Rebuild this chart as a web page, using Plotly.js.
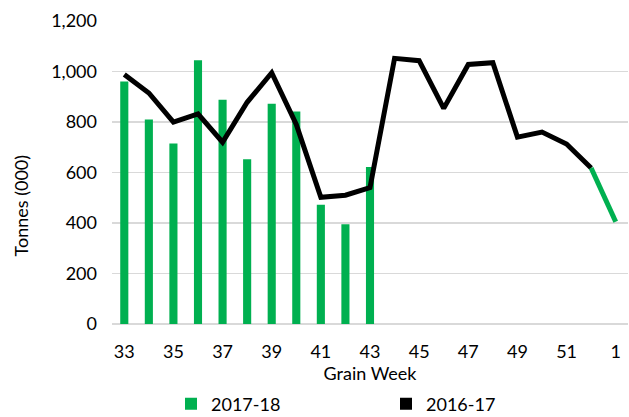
<!DOCTYPE html>
<html>
<head>
<meta charset="utf-8">
<script src="https://cdn.plot.ly/plotly-3.0.1.min.js"></script>
<style>html,body{margin:0;padding:0;background:#fff;}#chart{width:629px;height:417px;}</style>
</head>
<body>
<div id="chart"></div>
<script>
const weeks = ["33","34","35","36","37","38","39","40","41","42","43","44","45","46","47","48","49","50","51","52","1"];
const tickLabels = ["33","35","37","39","41","43","45","47","49","51","1"];
const bars2017 = [960, 810, 715, 1045, 888, 652, 872, 842, 472, 395, 622];
const line2016 = [988, 915, 800, 832, 720, 878, 995, 790, 502, 510, 540, 1052, 1043, 854, 1028, 1035, 740, 760, 713, 618, 405];

const barWeeks = weeks.slice(0, bars2017.length);
const blackWeeks = weeks.slice(0, weeks.length - 1);
const blackVals = line2016.slice(0, line2016.length - 1);
const greenWeeks = weeks.slice(weeks.length - 2);
const greenVals = line2016.slice(line2016.length - 2);

const GREEN = '#00b050';
const FONT = 'Lato, "Open Sans", sans-serif';

const traces = [
  {type:'bar', x:barWeeks, y:bars2017, name:'2017-18', marker:{color:GREEN}, width:0.33, showlegend:true, hoverinfo:'skip'},
  {type:'bar', x:[weeks[0]], y:[null], name:'2016-17', marker:{color:'#000000'}, showlegend:true, hoverinfo:'skip'},
  {type:'scatter', mode:'lines', x:blackWeeks, y:blackVals, name:'2016-17', line:{color:'#000000', width:5, shape:'linear'}, showlegend:false},
  {type:'scatter', mode:'lines', x:greenWeeks, y:greenVals, name:'2016-17', line:{color:GREEN, width:5}, showlegend:false}
];

const layout = {
  width:629, height:417,
  margin:{l:112, r:1, t:21, b:93, pad:0},
  paper_bgcolor:'#ffffff', plot_bgcolor:'#ffffff',
  barmode:'overlay',
  font:{family:FONT, size:18, color:'#000000'},
  showlegend:true,
  legend:{orientation:'h', xref:'container', yref:'container', x:171/629, xanchor:'left', y:1-404/417, yanchor:'middle', entrywidth:170, entrywidthmode:'pixels', itemwidth:30, font:{size:18, family:FONT, color:'#000'}, bgcolor:'rgba(0,0,0,0)', borderwidth:0},
  xaxis:{type:'category', categoryorder:'array', categoryarray:weeks, tickmode:'array', tickvals:tickLabels, ticktext:tickLabels,
         showgrid:false, showline:false, zeroline:false, ticks:'', ticklabelstandoff:15, automargin:false,
         tickfont:{size:18, family:FONT}, range:[-0.5, weeks.length-0.5],
         title:{text:'Grain Week', font:{size:18, family:FONT}, standoff:4}},
  yaxis:{range:[0,1200], dtick:200, tick0:0, tickformat:',d', showgrid:true, gridcolor:'#d9d9d9', gridwidth:1.5, automargin:false,
         zeroline:true, zerolinecolor:'#d9d9d9', zerolinewidth:1.5, showline:false, ticks:'', ticklabelstandoff:14,
         tickfont:{size:18, family:FONT}},
  annotations:[{text:'Tonnes (000)', xref:'paper', yref:'paper', x:-0.177, y:0.39, xanchor:'center', yanchor:'middle', textangle:-90, showarrow:false, font:{size:18, family:FONT, color:'#000'}}]
};

Plotly.newPlot('chart', traces, layout, {displayModeBar:false, staticPlot:true});
</script>
</body>
</html>
